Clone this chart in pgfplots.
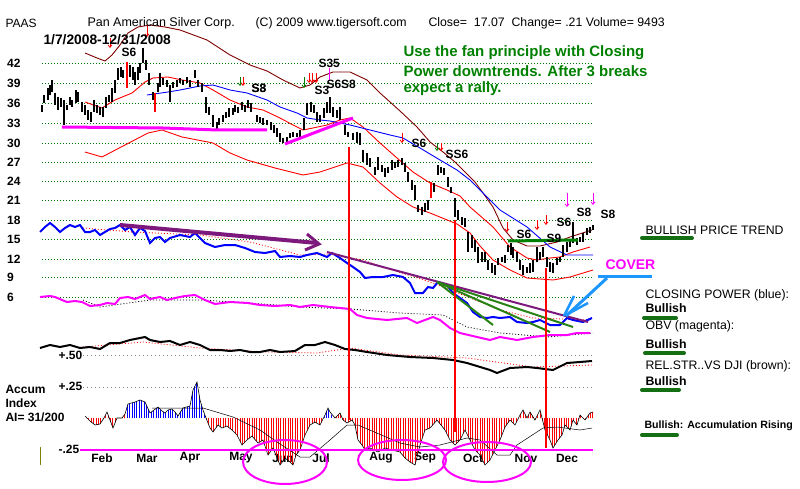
\documentclass[border=0pt]{standalone}
\usepackage{pgfplots}
\pgfplotsset{compat=1.18}
\usepackage{fontspec}
\setmainfont{Liberation Sans}
\usetikzlibrary{patterns.meta,arrows.meta}
\definecolor{tgreen}{RGB}{0,128,0}
\definecolor{gridg}{RGB}{0,120,0}
\definecolor{cpblue}{RGB}{0,0,255}
\definecolor{obvmag}{RGB}{255,0,255}
\definecolor{purp}{RGB}{125,25,125}
\definecolor{brn}{RGB}{128,0,0}
\definecolor{fan}{RGB}{40,130,20}
\definecolor{brush}{RGB}{20,110,20}
\definecolor{cov}{RGB}{30,150,255}
\definecolor{olivel}{RGB}{128,128,0}
\newcommand{\fs}[1]{\fontsize{#1pt}{#1pt}\selectfont}
\tikzset{sig/.style={line width=0.8pt, -{Straight Barb[length=2.5pt,width=4pt]}}}
\begin{document}
\begin{tikzpicture}
\begin{axis}[name=A, scale only axis, width=800pt, height=489pt,
  xmin=0, xmax=800, ymin=0, ymax=489, y dir=reverse,
  axis line style={draw=none}, major tick length=0pt,
  ytick={63.3,83.3,103.3,123.3,143,162.5,181.5,200.7,220,239.5,259.3,277,297.3},
  yticklabels={42,39,36,33,30,27,24,21,18,15,12,9,6},
  yticklabel style={font=\bfseries\fs{12}, anchor=west, inner sep=0pt, xshift=7pt},
  xtick={102,147,190,241,283,321,381,425,473,526,567},
  xticklabels={Feb,Mar,Apr,May,Jun,Jul,Aug,Sep,Oct,Nov,Dec},
  xticklabel style={font=\bfseries\fs{12}, anchor=center, inner sep=0pt, yshift=31pt},
  every node/.append style={inner sep=0pt}]

% ---------- price grid ----------
\pgfplotsinvokeforeach{63.3,83.3,103.3,123.3,143,162.5,181.5,200.7,220,239.5,259.3,277,297.3}{
  \addplot[gridg, line width=0.6pt, dash pattern=on 0.8pt off 2.2pt] coordinates {(42,#1) (593,#1)};
}
% indicator reference lines
\addplot[gray, line width=0.6pt, dash pattern=on 0.8pt off 3.2pt] coordinates {(83,355) (593,355)};
\addplot[gray, line width=0.6pt, dash pattern=on 0.8pt off 3.2pt] coordinates {(83,387) (593,387)};

% ---------- bands ----------
\addplot[brn, line width=0.9pt] coordinates {(85,53)(97,58)(105,61)(112,55)(120,45)(128,33)(138,27)(150,25)(165,27)(180,30)(207,40)(230,55)(250,65)(267,71)(283,80)(300,88)(310,85)(320,77)(333,72)(350,72)(367,80)(380,93)(400,111)(417,127)(430,142)(443,152)(455,162)(465,172)(475,182)(483,193)(493,207)(503,228)(513,240)(527,246)(540,246)(557,242)(570,237)(592,230)};
\addplot[red, line width=0.9pt] coordinates {(85,102)(102,108)(115,100)(132,93)(138,88)(145,82)(153,78)(168,77)(182,80)(200,83)(213,90)(230,100)(247,107)(263,110)(280,118)(293,125)(303,130)(313,128)(327,125)(340,120)(350,118)(363,127)(380,143)(397,158)(413,172)(430,183)(447,190)(460,196)(470,207)(493,227)(510,247)(527,258)(537,260)(550,258)(560,257)(573,252)(590,247)};
\addplot[red, line width=0.9pt] coordinates {(85,152)(102,157)(125,145)(148,133)(162,130)(182,137)(213,143)(230,153)(247,160)(275,168)(303,175)(320,172)(347,163)(363,167)(380,183)(397,197)(413,207)(430,213)(457,224)(470,233)(480,246)(493,260)(510,270)(527,278)(553,280)(570,277)(593,270)};
\addplot[cpblue, line width=0.9pt] coordinates {(147,95)(168,92)(180,90)(200,86)(213,85)(230,90)(247,93)(267,100)(280,107)(297,113)(307,118)(320,120)(330,121)(350,125)(370,130)(390,135)(403,138)(420,148)(440,160)(457,170)(470,180)(485,195)(500,210)(527,227)(550,247)(567,255)(593,255)};

% ---------- price bars (x, top, bottom) ----------
\addplot[draw=none, mark=none,
  error bars/.cd, y dir=plus, y explicit, error mark=none,
  error bar style={draw=black, line width=1.2pt}]
  table[x=x, y=t, y error plus expr=\thisrow{b}-\thisrow{t}] {
x t b
42 105 112
44 95 103
48 88 100
50 85 95
52 80 92
55 93 105
58 97 110
61 98 107
64 100 125
67 105 110
70 97 105
72 100 107
76 90 103
78 92 102
82 102 112
85 105 115
88 110 120
91 112 122
94 100 112
97 105 113
100 107 115
103 107 117
106 97 108
109 95 102
112 88 102
115 80 93
118 68 80
121 67 77
123 70 78
130 65 77
133 67 80
135 72 85
138 67 80
140 63 73
143 48 63
146 60 70
149 73 85
153 92 100
158 83 92
160 73 87
163 78 85
167 80 87
170 85 102
173 82 88
177 80 87
180 78 83
183 80 85
187 77 83
190 80 87
195 70 78
198 80 87
202 83 92
206 97 113
209 107 115
213 115 127
217 122 130
219 118 125
223 115 122
226 112 118
229 108 117
233 108 115
235 105 112
238 107 113
242 102 110
245 105 112
248 100 108
251 103 112
257 115 122
260 117 123
263 118 125
267 120 125
271 122 130
274 125 133
277 128 137
280 133 142
283 138 143
287 137 142
290 133 138
293 132 137
297 133 137
300 130 137
304 118 130
307 103 115
311 102 112
314 105 113
317 112 122
320 115 122
324 108 118
327 102 113
330 97 113
333 107 117
337 110 118
340 107 120
345 125 135
348 132 137
353 133 140
357 132 143
360 133 145
363 150 162
367 153 165
370 158 167
375 167 175
378 157 170
382 165 172
385 168 177
388 167 173
392 160 170
395 162 168
398 160 167
402 158 165
405 163 172
408 172 182
412 180 190
415 185 200
418 205 212
422 207 215
425 203 212
428 200 210
434 183 192
438 165 175
441 167 173
444 168 175
448 177 187
451 187 193
455 198 217
458 210 220
462 217 225
465 218 227
468 232 252
472 235 248
475 240 252
478 247 263
482 252 262
485 252 262
488 260 270
492 263 273
495 265 275
498 258 265
502 257 262
505 255 263
508 245 252
511 243 255
513 247 258
517 252 262
520 260 270
523 265 275
527 267 273
530 263 273
533 260 272
537 247 262
540 252 260
543 247 257
547 257 267
550 262 272
553 263 273
557 258 265
560 257 262
563 245 257
567 242 252
570 240 247
573 222 243
577 238 245
580 237 242
583 233 242
587 228 235
590 227 233
593 225 230
};
\addplot[draw=none, mark=none,
  error bars/.cd, y dir=plus, y explicit, error mark=none,
  error bar style={draw=red, line width=1.2pt}]
  table[x=x, y=t, y error plus expr=\thisrow{b}-\thisrow{t}] {
x t b
127 62 88
155 93 112
431 182 198
};

% ---------- trend annotations in price panel ----------
\addplot[obvmag, line width=3pt] coordinates {(62,127)(163,128)(217,130)(267,130)};
\addplot[obvmag, line width=3pt] coordinates {(285,144)(353,118)};
\addplot[tgreen, line width=3pt] coordinates {(508,241)(578,240)};

% ---------- Closing Power ----------
\addplot[red, line width=0.8pt, dash pattern=on 1pt off 2pt] coordinates {(83,228)(133,232)(200,235)(250,242)(300,255)(330,254)(363,260)(383,267)(433,283)(500,310)(533,318)(592,320)};
\addplot[cpblue, line width=2pt] coordinates {(40,232)(45,227)(50,223)(55,227)(60,232)(65,228)(70,225)(75,227)(80,225)(85,232)(90,232)(95,230)(100,235)(105,232)(110,229)(115,228)(120,225)(125,230)(130,227)(135,235)(140,228)(145,231)(150,243)(155,238)(160,237)(165,242)(170,238)(180,235)(190,237)(195,233)(200,238)(205,243)(210,245)(215,247)(225,245)(235,245)(245,248)(255,252)(265,253)(275,251)(280,257)(290,256)(300,257)(307,255)(317,253)(327,257)(332,253)(340,258)(347,263)(353,267)(360,272)(365,278)(373,277)(383,277)(393,275)(403,277)(410,283)(415,293)(423,293)(428,287)(433,288)(438,282)(447,285)(453,293)(467,303)(473,312)(480,317)(487,318)(493,317)(500,318)(510,317)(517,322)(527,323)(533,322)(540,320)(550,325)(560,325)(567,318)(573,320)(583,322)(592,318)};

% ---------- OBV ----------
\addplot[black, line width=0.8pt, dash pattern=on 1pt off 2pt] coordinates {(83,300)(100,307)(150,300)(200,300)(250,303)(300,307)(350,309)(400,313)(443,315)(467,327)(500,333)(547,337)(593,333)};
\addplot[obvmag, line width=2pt] coordinates {(40,297)(50,296)(55,297)(62,300)(67,302)(75,301)(82,302)(90,306)(100,305)(107,303)(115,304)(120,298)(128,297)(135,299)(140,297)(145,295)(150,299)(160,297)(167,300)(175,298)(185,296)(195,295)(205,300)(215,304)(230,302)(248,303)(260,305)(275,306)(290,305)(300,307)(313,305)(330,307)(350,309)(357,315)(367,318)(387,320)(407,318)(417,323)(433,317)(440,320)(450,328)(460,333)(477,337)(490,340)(500,337)(517,340)(533,337)(550,335)(567,335)(577,333)(590,333)};

% ---------- Relative strength ----------
\addplot[red, line width=0.8pt, dash pattern=on 1pt off 2pt] coordinates {(83,347)(143,342)(200,348)(267,352)(317,353)(350,348)(400,355)(467,358)(533,367)(592,365)};
\addplot[black, line width=2pt] coordinates {(40,348)(50,345)(60,347)(70,345)(80,348)(90,347)(100,349)(110,343)(120,343)(130,340)(145,337)(150,340)(160,342)(170,341)(180,345)(190,342)(200,345)(210,350)(220,350)(230,351)(240,350)(250,352)(260,352)(270,350)(280,352)(295,351)(305,345)(315,345)(325,342)(335,345)(345,349)(355,350)(367,352)(387,355)(410,357)(433,358)(453,360)(467,363)(490,370)(497,373)(510,368)(527,367)(537,368)(553,370)(567,363)(580,362)(592,361)};

% ---------- trend lines on Closing Power ----------
\addplot[purp, line width=4pt] coordinates {(120,225)(317,243)};
\addplot[purp, line width=3pt] coordinates {(307,234)(319,244)(305,250)};
\addplot[purp, line width=2pt] coordinates {(327,252)(588,322)};
\addplot[fan, line width=2pt] coordinates {(437,282)(493,325)};
\addplot[fan, line width=2pt] coordinates {(437,282)(550,332)};
\addplot[fan, line width=2pt] coordinates {(437,282)(573,327)};

% ---------- Accumulation index ----------
\addplot[draw=none, pattern={Lines[angle=90,distance=2.4pt,line width=1pt]}, pattern color=red] coordinates {(85,418)(85,416)(90,421)(95,425)(100,424)(104,418)(107,412)(110,420)(113,428)(117,418)(122,418)(125,414)(125,418)} -- cycle;
\addplot[draw=none, pattern={Lines[angle=90,distance=2.4pt,line width=1pt]}, pattern color=cpblue] coordinates {(125,418)(125,414)(128,404)(135,402)(140,400)(145,402)(150,413)(154,410)(158,407)(162,411)(165,413)(168,410)(172,409)(175,412)(178,416)(183,408)(190,406)(193,390)(197,382)(200,400)(203,410)(206,418)} -- cycle;
\addplot[draw=none, pattern={Lines[angle=90,distance=2.4pt,line width=1pt]}, pattern color=red] coordinates {(206,418)(210,428)(213,432)(218,425)(222,428)(227,426)(232,430)(237,435)(242,445)(247,440)(252,436)(258,443)(263,440)(268,455)(273,448)(280,465)(285,458)(290,462)(293,465)(296,455)(300,450)(305,435)(310,425)(315,422)(320,425)(324,418)} -- cycle;
\addplot[draw=none, pattern={Lines[angle=90,distance=2.4pt,line width=1pt]}, pattern color=cpblue] coordinates {(324,418)(325,415)(328,408)(330,412)(333,418)} -- cycle;
\addplot[draw=none, pattern={Lines[angle=90,distance=2.4pt,line width=1pt]}, pattern color=red] coordinates {(333,418)(335,418)(340,413)(343,420)(347,423)(352,420)(355,425)(358,440)(362,445)(365,450)(370,448)(378,452)(385,448)(392,450)(400,452)(405,458)(410,462)(415,465)(420,445)(425,430)(430,428)(437,420)(445,430)(450,440)(455,445)(460,440)(465,430)(470,440)(475,450)(480,455)(485,465)(490,460)(495,450)(500,440)(505,427)(510,420)(515,425)(520,415)(523,410)(527,418)(530,412)(535,420)(540,410)(545,430)(550,440)(553,448)(558,440)(562,435)(565,425)(570,430)(573,420)(577,425)(580,415)(585,420)(590,413)(593,412)(593,418)} -- cycle;
\addplot[black, line width=0.6pt] coordinates {(85,416)(90,421)(95,425)(100,424)(104,418)(107,412)(110,420)(113,428)(117,418)(122,418)(125,414)(128,404)(135,402)(140,400)(145,402)(150,413)(154,410)(158,407)(162,411)(165,413)(168,410)(172,409)(175,412)(178,416)(183,408)(190,406)(193,390)(197,382)(200,400)(203,410)(206,418)(210,428)(213,432)(218,425)(222,428)(227,426)(232,430)(237,435)(242,445)(247,440)(252,436)(258,443)(263,440)(268,455)(273,448)(280,465)(285,458)(290,462)(293,465)(296,455)(300,450)(305,435)(310,425)(315,422)(320,425)(325,415)(328,408)(330,412)(335,418)(340,413)(343,420)(347,423)(352,420)(355,425)(358,440)(362,445)(365,450)(370,448)(378,452)(385,448)(392,450)(400,452)(405,458)(410,462)(415,465)(420,445)(425,430)(430,428)(437,420)(445,430)(450,440)(455,445)(460,440)(465,430)(470,440)(475,450)(480,455)(485,465)(490,460)(495,450)(500,440)(505,427)(510,420)(515,425)(520,415)(523,410)(527,418)(530,412)(535,420)(540,410)(545,430)(550,440)(553,448)(558,440)(562,435)(565,425)(570,430)(573,420)(577,425)(580,415)(585,420)(590,413)(593,412)};
\addplot[black, line width=0.5pt] coordinates {(152,408)(173,408)(203,408)(233,417)(260,430)(277,442)(300,457)(310,457)(330,440)(347,425)(358,425)(400,443)(420,447)(440,445)(467,438)(480,440)(497,455)(510,455)(517,445)(543,428)(557,427)(580,430)(592,428)};
\addplot[obvmag, line width=2.5pt] coordinates {(80,450)(593,450)};
\addplot[olivel, line width=1pt] coordinates {(40,447)(40,465)};

% ---------- red vertical signal lines ----------
\addplot[red, line width=2.5pt] coordinates {(349,147)(349,420)};
\addplot[red, line width=2.5pt] coordinates {(455,220)(455,432)};
\addplot[red, line width=2.5pt] coordinates {(546,268)(546,448)};

% ---------- ellipses ----------
\draw[obvmag, line width=2pt] (axis cs:285,462) ellipse [x radius=42pt, y radius=22pt];
\draw[obvmag, line width=2pt] (axis cs:402,460) ellipse [x radius=44pt, y radius=20pt];
\draw[obvmag, line width=2pt] (axis cs:487,462) ellipse [x radius=44pt, y radius=20pt];

% ---------- signal arrows ----------
\draw[red, sig] (axis cs:110,38) -- (axis cs:110,48);
\draw[red, sig] (axis cs:147,25) -- (axis cs:147,37);
\draw[tgreen, sig] (axis cs:240,77) -- (axis cs:240,86);
\draw[red, sig] (axis cs:243,77) -- (axis cs:243,86);
\draw[tgreen, sig] (axis cs:304,77) -- (axis cs:304,88);
\draw[red, sig] (axis cs:309,73) -- (axis cs:309,83);
\draw[red, sig] (axis cs:312,73) -- (axis cs:312,83);
\draw[red, sig] (axis cs:316,73) -- (axis cs:316,83);
\draw[red, sig] (axis cs:402,133) -- (axis cs:402,143);
\draw[tgreen, sig] (axis cs:437,143) -- (axis cs:437,151);
\draw[red, sig] (axis cs:441,143) -- (axis cs:441,151);
\draw[red, sig] (axis cs:507,222) -- (axis cs:507,232);
\draw[red, sig] (axis cs:537,220) -- (axis cs:537,230);
\draw[red, sig] (axis cs:546,215) -- (axis cs:546,225);
\draw[obvmag, sig] (axis cs:567,193) -- (axis cs:567,207);
\draw[obvmag, sig] (axis cs:593,193) -- (axis cs:593,205);
\draw[obvmag, line width=1pt] (axis cs:329,68) -- (axis cs:329,80);

% ---------- COVER arrow ----------
\draw[cov, line width=3pt] (axis cs:598,276) -- (axis cs:652,276);
\draw[cov, line width=3pt] (axis cs:607,278) -- (axis cs:566,316);
\draw[cov, line width=2.5pt] (axis cs:574,296) -- (axis cs:564,316);
\draw[cov, line width=2.5pt] (axis cs:588,303) -- (axis cs:566,315);

% ---------- signal labels ----------
\node[anchor=west, font=\bfseries\fs{12}] at (axis cs:118,52) {S6};
\node[anchor=west, font=\bfseries\fs{12}] at (axis cs:248,88) {S8};
\node[anchor=west, font=\bfseries\fs{12}] at (axis cs:248,88) {S3};
\node[anchor=west, font=\bfseries\fs{12}] at (axis cs:315,63) {S35};
\node[anchor=west, font=\bfseries\fs{12}] at (axis cs:311,90) {S3};
\node[anchor=west, font=\bfseries\fs{12}] at (axis cs:323,84) {S6S8};
\node[anchor=west, font=\bfseries\fs{12}] at (axis cs:408,143) {S6};
\node[anchor=west, font=\bfseries\fs{12}] at (axis cs:442,154) {SS6};
\node[anchor=west, font=\bfseries\fs{12}] at (axis cs:513,234) {S6};
\node[anchor=west, font=\bfseries\fs{12}] at (axis cs:543,238) {S9};
\node[anchor=west, font=\bfseries\fs{12}] at (axis cs:553,222) {S6};
\node[anchor=west, font=\bfseries\fs{12}] at (axis cs:573,212) {S8};
\node[anchor=west, font=\bfseries\fs{12}] at (axis cs:597,214) {S8};

% ---------- header ----------
\node[anchor=west, font=\fs{12}] at (axis cs:2,23) {PAAS};
\node[anchor=west, font=\fs{12.5}] at (axis cs:84,23) {Pan American Silver Corp.};
\node[anchor=west, font=\fs{12.3}] at (axis cs:252,23) {(C) 2009 www.tigersoft.com};
\node[anchor=west, font=\fs{12.3}] at (axis cs:425,23) {Close=~ 17.07~ Change= .21 Volume= 9493};
\node[anchor=west, font=\bfseries\fs{13.8}] at (axis cs:40,40) {1/7/2008-12/31/2008};
\node[anchor=west, font=\bfseries\fs{15}, text=tgreen] at (axis cs:400,53) {Use the fan principle with Closing};
\node[anchor=west, font=\bfseries\fs{15}, text=tgreen] at (axis cs:400,71) {Power downtrends. After 3 breaks};
\node[anchor=west, font=\bfseries\fs{15}, text=tgreen] at (axis cs:400,89) {expect a rally.};

% ---------- right-hand legend ----------
\node[anchor=west, font=\fs{12.3}] at (axis cs:642,230) {BULLISH PRICE TREND};
\draw[brush, line width=4pt, line cap=round] (axis cs:642,238) -- (axis cs:692,238);
\node[anchor=west, font=\bfseries\fs{14}, text=obvmag] at (axis cs:602,265) {COVER};
\node[anchor=west, font=\fs{12.3}] at (axis cs:642,295) {CLOSING POWER (blue):};
\node[anchor=west, font=\bfseries\fs{12.3}] at (axis cs:642,308) {Bullish};
\draw[brush, line width=4pt, line cap=round] (axis cs:644,318) -- (axis cs:676,318);
\node[anchor=west, font=\fs{12.3}] at (axis cs:642,326) {OBV (magenta):};
\node[anchor=west, font=\bfseries\fs{12.3}] at (axis cs:642,344) {Bullish};
\draw[brush, line width=4pt, line cap=round] (axis cs:645,353) -- (axis cs:684,353);
\node[anchor=west, font=\fs{12.3}] at (axis cs:642,366) {REL.STR..VS DJI (brown):};
\node[anchor=west, font=\bfseries\fs{12.3}] at (axis cs:642,381) {Bullish};
\draw[brush, line width=4pt, line cap=round] (axis cs:642,390) -- (axis cs:679,390);
\node[anchor=west, font=\bfseries\fs{10.6}] at (axis cs:641,426) {Bullish: Accumulation Rising};
\draw[brush, line width=4pt, line cap=round] (axis cs:642,435) -- (axis cs:677,435);

% ---------- accumulation labels ----------
\node[anchor=west, font=\bfseries\fs{12}] at (axis cs:2,389) {Accum};
\node[anchor=west, font=\bfseries\fs{12}] at (axis cs:2,403) {Index};
\node[anchor=west, font=\bfseries\fs{12}] at (axis cs:2,417) {AI= 31/200};
\node[anchor=west, font=\bfseries\fs{12}] at (axis cs:55,355) {+.50};
\node[anchor=west, font=\bfseries\fs{12}] at (axis cs:55,386) {+.25};
\node[anchor=west, font=\bfseries\fs{12}] at (axis cs:55,449) {-.25};
\end{axis}
\pgfresetboundingbox
\path[use as bounding box] (A.south west) rectangle (A.north east);
\end{tikzpicture}
\end{document}
